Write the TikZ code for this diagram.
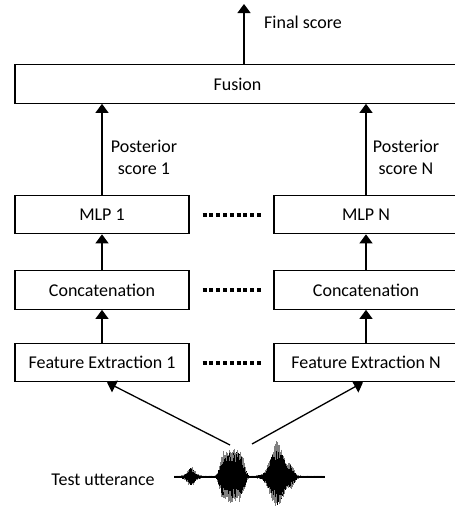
\documentclass[tikz,border=0pt]{standalone}
\usepackage{fontspec}
\setmainfont{Carlito}
\usetikzlibrary{arrows.meta}
\begin{document}
\begin{tikzpicture}[x=1pt,y=-1pt,
  box/.style={draw, line width=1.2pt, inner sep=0pt, minimum height=38.5pt, font=\fontsize{18}{21}\selectfont},
  lbl/.style={inner sep=0pt, align=center, font=\fontsize{18}{22}\selectfont},
  arr/.style={line width=1.3pt, -{Triangle[length=9pt,width=13pt]}},
  dots/.style={line width=4pt, dash pattern=on 4pt off 2.8pt}]
\useasboundingbox (0,0) rectangle (455,506);
\node[box, minimum width=445pt] (fusion) at (237.5,84) {Fusion};
\node[box, minimum width=174pt] (mlp1) at (102,214.5) {MLP 1};
\node[box, minimum width=184pt] (mlpN) at (366,214.5) {MLP N};
\node[box, minimum width=174pt] (cat1) at (102,290) {Concatenation};
\node[box, minimum width=184pt] (catN) at (366,290) {Concatenation};
\node[box, minimum width=174pt] (fe1) at (102,362.5) {Feature Extraction 1};
\node[box, minimum width=184pt] (feN) at (366,362.5) {Feature Extraction N};
\node[lbl] (fs) at (303,22) {Final score};
\node[lbl] (ps1) at (144,157) {Posterior\\score 1};
\node[lbl] (psN) at (406,157) {Posterior\\score N};
\node[lbl] (tu) at (103,480) {Test utterance};
\coordinate (top) at (244,4);
\coordinate (wl) at (230,445);
\coordinate (wr) at (252,444);
% arrows
\draw[arr] (fusion.north -| top) -- (top);
\draw[arr] (mlp1.north) -- (mlp1.north |- fusion.south);
\draw[arr] (mlpN.north) -- (mlpN.north |- fusion.south);
\draw[arr] (cat1.north) -- (mlp1.south);
\draw[arr] (catN.north) -- (mlpN.south);
\draw[arr] (fe1.north) -- (cat1.south);
\draw[arr] (feN.north) -- (catN.south);
\draw[arr] (wl) -- ([xshift=5pt]fe1.south);
\draw[arr] (wr) -- ([xshift=-3pt]feN.south);
% dotted
\draw[dots] ([xshift=13pt]mlp1.east) -- ([xshift=-11pt]mlpN.west);
\draw[dots] ([xshift=13pt]cat1.east) -- ([xshift=-11pt]catN.west);
\draw[dots] ([xshift=13pt]fe1.east) -- ([xshift=-11pt]feN.west);
% waveform
\pgfmathsetseed{7}
\foreach \i in {0,...,300}{
  \pgfmathsetmacro{\xx}{174+\i*0.5}
  \pgfmathsetmacro{\ea}{8*exp(-min(((\xx-191)/5)^2,10))}
  \pgfmathsetmacro{\ub}{min(abs(\xx-232)/13,1.5)}
  \pgfmathsetmacro{\eb}{24*exp(-(\ub)^6)}
  \pgfmathsetmacro{\ec}{30*exp(-min(((\xx-277)/9)^2,10))+8*exp(-min(((\xx-291)/4)^2,10))}
  \pgfmathsetmacro{\env}{1.3+\ea+\eb+\ec}
  \pgfmathsetmacro{\upg}{\env*(0.75+0.4*rnd)}
  \pgfmathsetmacro{\dng}{\env*(0.65+0.4*rnd)}
  \pgfmathsetmacro{\up}{\env*(0.55+0.45*rnd)}
  \pgfmathsetmacro{\dn}{\env*(0.45+0.45*rnd)}
  \draw[gray, line width=0.6pt] (\xx,477-\upg) -- (\xx,477+\dng);
  \draw[black, line width=0.9pt] (\xx,477-\up) -- (\xx,477+\dn);
}
\end{tikzpicture}
\end{document}
